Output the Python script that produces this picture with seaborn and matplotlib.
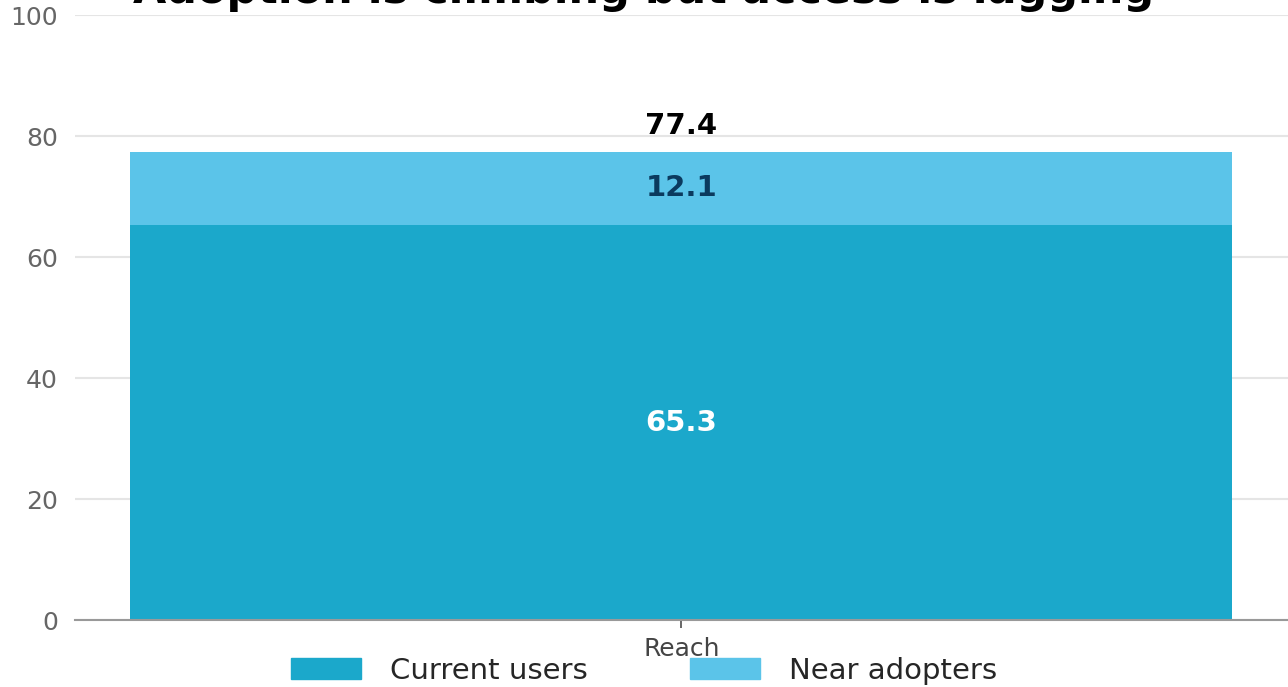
import matplotlib
matplotlib.use("Agg")
import matplotlib.pyplot as plt
from matplotlib.patches import Patch
import pandas as pd
import seaborn as sns

TITLE = "Adoption is climbing but access is lagging"
categories = ["Reach"]
current_users = [65.3]
near_adopters = [12.1]
series_names = ["Current users", "Near adopters"]

CUR_COLOR = "#1BA8CB"
NEAR_COLOR = "#5BC4E9"


def main():
    sns.set_theme(style="white")
    plt.rcParams["font.family"] = ["DejaVu Sans"]
    plt.rcParams["font.sans-serif"] = ["DejaVu Sans"]

    totals = [c + n for c, n in zip(current_users, near_adopters)]
    df = pd.DataFrame({"category": categories, "current": current_users,
                       "near": near_adopters, "total": totals})

    fig = plt.figure(figsize=(12.88, 6.87), dpi=100)
    ax = fig.add_axes([0.058, 0.0975, 0.942, 0.8805])

    sns.barplot(data=df, x="category", y="total", color=NEAR_COLOR, width=0.8,
                saturation=1, linewidth=0, ax=ax)
    sns.barplot(data=df, x="category", y="current", color=CUR_COLOR, width=0.8,
                saturation=1, linewidth=0, ax=ax)

    for i, row in df.iterrows():
        ax.text(i, row["current"] / 2, f"{row['current']:.1f}", ha="center", va="center",
                color="white", fontsize=21, fontweight="bold")
        ax.text(i, row["current"] + row["near"] / 2, f"{row['near']:.1f}", ha="center",
                va="center", color="#0B3A5E", fontsize=21, fontweight="bold")
        ax.text(i, row["total"] + 1.9, f"{row['total']:.1f}", ha="center", va="bottom",
                color="black", fontsize=21, fontweight="bold")

    ax.set_xlim(-0.4405, 0.4405)
    ax.set_ylim(0, 100)
    ax.set_yticks(range(0, 101, 20))
    ax.set_xlabel("")
    ax.set_ylabel("")
    ax.yaxis.grid(True, color="#E5E5E5", linewidth=1.5)
    ax.set_axisbelow(True)
    for side in ["left", "right", "top"]:
        ax.spines[side].set_visible(False)
    ax.spines["bottom"].set_color("#999999")
    ax.spines["bottom"].set_linewidth(1.5)
    ax.tick_params(axis="y", length=0, labelsize=18, labelcolor="#666666", pad=12)
    ax.tick_params(axis="x", length=6, color="#555555", labelsize=18,
                   labelcolor="#444444", bottom=True, pad=6)

    handles = [Patch(color=CUR_COLOR), Patch(color=NEAR_COLOR)]
    fig.legend(handles, series_names, loc="lower center", ncol=2, frameon=False,
               fontsize=21, handlelength=2.4, handleheight=0.75, columnspacing=3.5,
               handletextpad=1.0, bbox_to_anchor=(0.5, -0.035))

    # title sits mostly above the canvas, as in the reference
    fig.text(0.5, 0.996, TITLE, ha="center", va="baseline", fontsize=31,
             fontweight="bold", color="black")

    fig.savefig("out.png", dpi=100)


if __name__ == "__main__":
    main()
